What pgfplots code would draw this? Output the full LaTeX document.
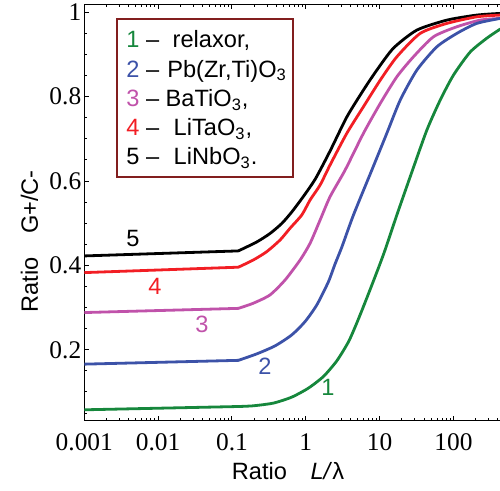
\documentclass[border=0pt]{standalone}
\usepackage{fontspec}
\setmainfont{Liberation Serif}
\setsansfont{Liberation Sans}
\usepackage{pgfplots}
\pgfplotsset{compat=1.18}
\definecolor{cA}{RGB}{22,135,60}
\definecolor{cB}{RGB}{60,82,168}
\definecolor{cC}{RGB}{192,82,170}
\definecolor{cD}{RGB}{242,30,36}
\definecolor{cE}{RGB}{0,0,0}
\definecolor{lgd}{RGB}{130,30,30}
\pgfplotsset{crv/.style={line width=1.4pt, mark=none, line cap=round, line join=round}}
\begin{document}
\begin{tikzpicture}
\begin{axis}[
  scale only axis, width=208pt, height=208pt,
  xmode=log, xmin=0.001, xmax=430, ymin=0.032, ymax=1.018,
  axis x line*=box, axis y line*=left,
  axis line style={-, line width=0.6pt},
  every tick/.style={line width=0.5pt, black},
  major tick length=2.2pt, minor tick length=1.3pt,
  xtick={0.001,0.01,0.1,1,10,100},
  xticklabels={0.001,0.01,0.1,1,10,100},
  minor xtick={0.002,0.003,0.004,0.005,0.006,0.007,0.008,0.009,
               0.02,0.03,0.04,0.05,0.06,0.07,0.08,0.09,
               0.2,0.3,0.4,0.5,0.6,0.7,0.8,0.9,
               2,3,4,5,6,7,8,9,20,30,40,50,60,70,80,90,200,300,400},
  ytick={0.2,0.4,0.6,0.8,1},
  yticklabels={0.2,0.4,0.6,0.8,1},
  minor ytick={0.05,0.1,0.15,0.25,0.3,0.35,0.45,0.5,0.55,0.65,0.7,0.75,0.85,0.9,0.95},
  ticklabel style={font=\fontsize{12.7}{14}\selectfont},
  xticklabel style={yshift=-3pt},
  yticklabel style={xshift=2pt},
  clip=true,
]
\coordinate (sw) at (rel axis cs:0,0);
\coordinate (ne) at (rel axis cs:1,1);
% 5 - LiNbO3
\addplot[cE, crv] coordinates {(0.001,0.4225) (0.122,0.4344)};
\addplot[cE, crv, smooth, tension=0.4] coordinates {
(0.122,0.4344) (0.217,0.4557) (0.328,0.4758) (0.473,0.4995) (0.646,0.5268) (0.927,0.5635) (1.35,0.6055) (2.13,0.6712) (3.59,0.7518) (6.03,0.8157) (9.16,0.863) (15.4,0.9152) (31.9,0.9578) (81.5,0.9815) (207,0.9934) (430,0.9974)};
% 4 - LiTaO3
\addplot[cD, crv] coordinates {(0.001,0.383) (0.122,0.3958)};
\addplot[cD, crv, smooth, tension=0.4] coordinates {
(0.122,0.3958) (0.195,0.413) (0.296,0.4327) (0.449,0.4604) (0.612,0.4882) (0.883,0.5197) (1.143,0.5552) (1.563,0.5907) (2.13,0.6381) (3.59,0.7132) (6.03,0.7762) (10.2,0.8394) (17.1,0.8946) (35.4,0.950) (81.5,0.9737) (207,0.9893) (430,0.9934)};
% 3 - BaTiO3
\addplot[cC, crv] coordinates {(0.001,0.2883) (0.122,0.2982)};
\addplot[cC, crv, smooth, tension=0.4] coordinates {
(0.122,0.2982) (0.195,0.3105) (0.328,0.3302) (0.525,0.3657) (0.838,0.413) (1.143,0.4526) (1.563,0.5078) (2.13,0.563) (3.41,0.6262) (6.03,0.7132) (10.2,0.7842) (17.1,0.8472) (28.7,0.8946) (53.6,0.942) (111,0.9657) (230,0.9815) (430,0.9855)};
% 2 - PZT
\addplot[cB, crv] coordinates {(0.001,0.166) (0.122,0.175)};
\addplot[cB, crv, smooth, tension=0.4] coordinates {
(0.122,0.175) (0.217,0.1904) (0.384,0.2094) (0.646,0.2354) (0.977,0.2669) (1.41,0.3065) (2.02,0.361) (2.49,0.4036) (3.08,0.4439) (4.42,0.5197) (7.84,0.6262) (12.5,0.7132) (19.0,0.792) (31.9,0.863) (59.6,0.9183) (111,0.950) (207,0.9737) (430,0.9855)};
% 1 - relaxor
\addplot[cA, crv] coordinates {(0.001,0.0578) (0.122,0.0656)};
\addplot[cA, crv, smooth, tension=0.4] coordinates {
(0.122,0.0656) (0.195,0.0673) (0.364,0.0737) (0.646,0.0879) (1.084,0.1092) (1.731,0.1367) (2.63,0.1739) (3.78,0.2189) (4.91,0.2639) (6.71,0.3231) (9.63,0.3941) (11.9,0.4379) (17.1,0.5197) (27.3,0.6215) (43.6,0.7210) (66.1,0.7920) (100,0.8513) (168,0.9057) (284,0.9389) (430,0.9602)};
\end{axis}
\begin{scope}[x=0.5pt, y=-0.5pt, shift={([xshift=-42.15pt,yshift=210.35pt]sw)},
  every node/.style={font=\sffamily\fontsize{11.8}{13}\selectfont, inner sep=0pt}]
  % legend
  \draw[lgd, line width=1pt] (117,19) rectangle (292.7,177);
  \node[anchor=base west] at (126,48) {\textcolor{cA}{1} –\hspace{3.5pt} relaxor,};
  \node[anchor=base west] at (126,77.25) {\textcolor{cB}{2} –\hspace{0.8pt} Pb(Zr,Ti)O\textsubscript{3}};
  \node[anchor=base west] at (126,106.5) {\textcolor{cC}{3} – BaTiO\textsubscript{3},};
  \node[anchor=base west] at (126,135.75) {\textcolor{cD}{4} –\hspace{4pt} LiTaO\textsubscript{3},};
  \node[anchor=base west] at (126,165) {\textcolor{cE}{5} –\hspace{4pt} LiNbO\textsubscript{3}.};
  % curve labels
  \node[cE] at (133,239) {5};
  \node[cD] at (155,286) {4};
  \node[cC] at (202,324) {3};
  \node[cB] at (265,366) {2};
  \node[cA] at (328,387) {1};
  % axis labels
  \node[anchor=base] at (288,480) {Ratio\quad \textit{L/}λ};
  \node[anchor=base, rotate=90] at (38,241.5) {Ratio\quad G+/C-};
\end{scope}
\pgfresetboundingbox
\begin{scope}[x=0.5pt, y=-0.5pt, shift={([xshift=-42.15pt,yshift=210.35pt]sw)}]
  \path (0,0) rectangle (500,491);
\end{scope}
\end{tikzpicture}
\end{document}
